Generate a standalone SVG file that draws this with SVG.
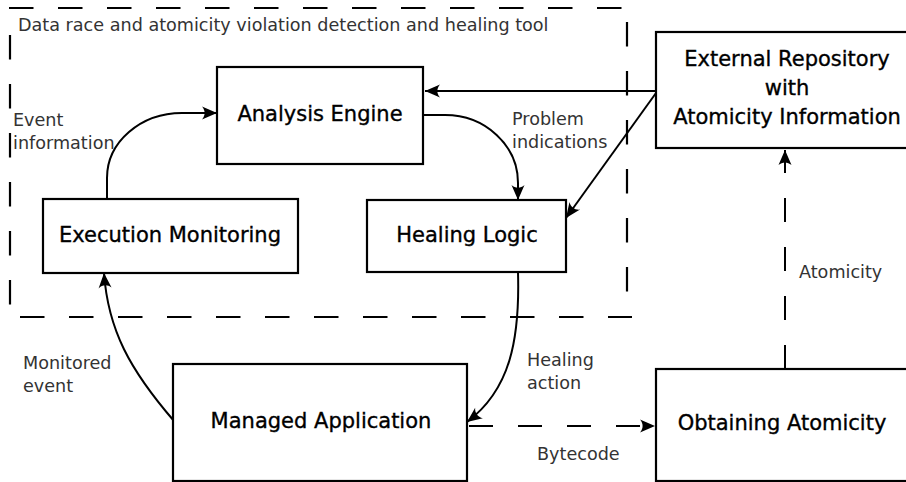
<svg xmlns="http://www.w3.org/2000/svg" width="906" height="482" viewBox="0 0 906 482">
<defs>
<style>
.box{fill:#fff;stroke:#000;stroke-width:2.2}
.nt{font-family:"DejaVu Sans",Verdana,sans-serif;font-size:21px;fill:#000;stroke:#000;stroke-width:0.35;text-anchor:middle}
.lb{font-family:"DejaVu Sans",Verdana,sans-serif;font-size:17.6px;fill:#333}
.bd{fill:none;stroke:#000;stroke-width:2.2;stroke-dasharray:24.5 24.5}
.cn{fill:none;stroke:#000;stroke-width:2}
.dc{fill:none;stroke:#000;stroke-width:2;stroke-dasharray:24 25}
</style>
<marker id="ah" viewBox="-17 -9 18 18" refX="0" refY="0" markerWidth="18" markerHeight="18" markerUnits="userSpaceOnUse" orient="auto">
<path d="M0,0 L-15,-6.5 C-11.5,-2.5 -11.5,2.5 -15,6.5 Z" fill="#000"/>
</marker>
</defs>
<rect width="906" height="482" fill="#fff"/>

<g id="boundary">
<path class="bd" d="M9,8 H627 M627,22 V300 M20,317 H632 M10,35 V310"/>
<text class="lb" x="18" y="31">Data race and atomicity violation detection and healing tool</text>
</g>

<g id="connectors">
<path class="cn" marker-end="url(#ah)" d="M107,199 V178 A75,65 0 0 1 182,113 H217"/>
<path class="cn" marker-end="url(#ah)" d="M424,115 H445 A73,68 0 0 1 518,183 V200"/>
<path class="cn" marker-end="url(#ah)" d="M656,91 H425"/>
<path class="cn" marker-end="url(#ah)" d="M656,93 L566,218"/>
<path class="cn" marker-end="url(#ah)" d="M518,272 C520,340 510,390 467,422"/>
<path class="cn" marker-end="url(#ah)" d="M174,421 C130,370 108,330 104,273"/>
<path class="dc" marker-end="url(#ah)" d="M469,426 H655"/>
<path class="dc" marker-end="url(#ah)" d="M785,369 V150"/>
<text class="lb" x="13" y="126">Event</text>
<text class="lb" x="13" y="149">information</text>
<text class="lb" x="512" y="125">Problem</text>
<text class="lb" x="512" y="148">indications</text>
<text class="lb" x="23" y="369">Monitored</text>
<text class="lb" x="23" y="392">event</text>
<text class="lb" x="527" y="366">Healing</text>
<text class="lb" x="527" y="389">action</text>
<text class="lb" x="537" y="460">Bytecode</text>
<text class="lb" x="799" y="278">Atomicity</text>
</g>

<g id="analysis-engine">
<rect class="box" x="217" y="67" width="206" height="97"/>
<text class="nt" x="320" y="121">Analysis Engine</text>
</g>
<g id="execution-monitoring">
<rect class="box" x="43" y="199" width="255" height="74"/>
<text class="nt" x="170" y="242">Execution Monitoring</text>
</g>
<g id="healing-logic">
<rect class="box" x="367" y="200" width="199" height="72"/>
<text class="nt" x="467" y="242">Healing Logic</text>
</g>
<g id="external-repository">
<rect class="box" x="656" y="32" width="260" height="116"/>
<text class="nt" x="787" y="66">External Repository</text>
<text class="nt" x="787" y="95">with</text>
<text class="nt" x="787" y="124">Atomicity Information</text>
</g>
<g id="managed-application">
<rect class="box" x="173" y="364" width="294" height="117"/>
<text class="nt" x="321" y="428">Managed Application</text>
</g>
<g id="obtaining-atomicity">
<rect class="box" x="656" y="369" width="260" height="112"/>
<text class="nt" x="782" y="430">Obtaining Atomicity</text>
</g>
</svg>
